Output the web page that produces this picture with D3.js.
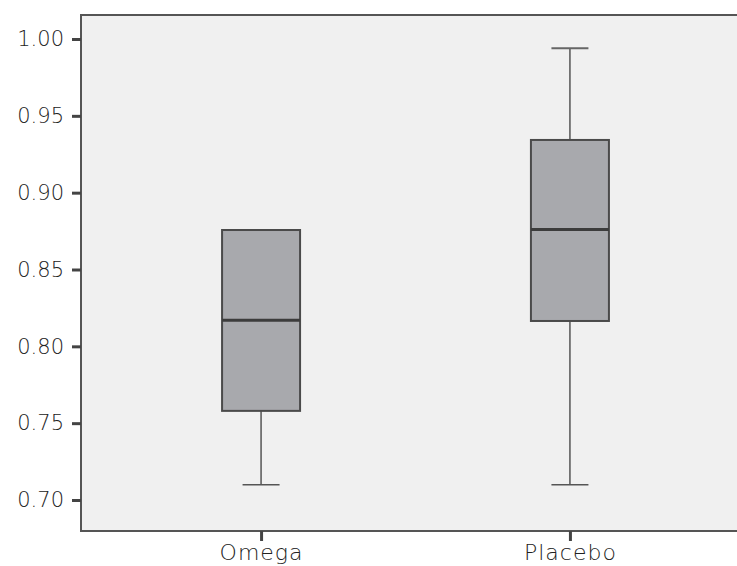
<!DOCTYPE html>
<html><head><meta charset="utf-8">
<script src="https://cdn.jsdelivr.net/npm/d3@7"></script>
<style>body{margin:0;background:#fff;overflow:hidden}</style>
</head><body>
<svg id="c" width="737" height="566"></svg>
<script>
const categories = ["Omega", "Placebo"];
const mins    = [0.710, 0.710];
const q1s     = [0.758, 0.8165];
const medians = [0.817, 0.876];
const q3s     = [0.8757, 0.9343];
const maxs    = [0.8757, 0.994];
const yTicks  = [0.70, 0.75, 0.80, 0.85, 0.90, 0.95, 1.00];

const data = categories.map((c,i)=>({c, min:mins[i], q1:q1s[i], med:medians[i], q3:q3s[i], max:maxs[i]}));

const svg = d3.select("#c");
const L = 81, T = 15, B = 531, R = 750;
const y = d3.scaleLinear().domain([0.70, 1.00]).range([500, 39]);
const x = d3.scalePoint().domain(categories).range([L, R]).padding(0.583);

svg.append("rect").attr("x", L).attr("y", T).attr("width", R - L).attr("height", B - T)
  .attr("fill", "#f0f0f0").attr("stroke", "#555").attr("stroke-width", 2);

const font = "'DejaVu Sans', sans-serif";
const yAxis = svg.append("g").attr("transform", `translate(${L},0)`)
  .call(d3.axisLeft(y).tickValues(yTicks).tickFormat(d3.format(".2f")).tickSize(9).tickPadding(8));
yAxis.select(".domain").remove();
yAxis.selectAll(".tick line").attr("stroke", "#444").attr("stroke-width", 3);
yAxis.selectAll(".tick text").attr("font-family", font).attr("font-weight", 200)
  .attr("font-size", 21).attr("fill", "#222");

const xAxis = svg.append("g").attr("transform", `translate(0,${B})`)
  .call(d3.axisBottom(x).tickSize(10).tickPadding(6));
xAxis.select(".domain").remove();
xAxis.selectAll(".tick line").attr("stroke", "#444").attr("stroke-width", 3);
xAxis.selectAll(".tick text").attr("font-family", font).attr("font-weight", 200)
  .attr("font-size", 22).attr("fill", "#222").attr("letter-spacing", 1)
  .attr("y", 29).attr("dy", 0);

const bw = 78, cw = 37;
const g = svg.append("g").selectAll("g").data(data).join("g");
g.append("line").attr("x1", d=>x(d.c)).attr("x2", d=>x(d.c))
  .attr("y1", d=>y(d.min)).attr("y2", d=>y(d.q1)).attr("stroke", "#555").attr("stroke-width", 1.5);
g.append("line").attr("x1", d=>x(d.c)).attr("x2", d=>x(d.c))
  .attr("y1", d=>y(d.q3)).attr("y2", d=>y(d.max)).attr("stroke", "#555").attr("stroke-width", 1.5);
g.append("line").attr("x1", d=>x(d.c)-cw/2).attr("x2", d=>x(d.c)+cw/2)
  .attr("y1", d=>y(d.min)).attr("y2", d=>y(d.min)).attr("stroke", "#555").attr("stroke-width", 1.5);
g.filter(d=>d.max > d.q3).append("line").attr("x1", d=>x(d.c)-cw/2).attr("x2", d=>x(d.c)+cw/2)
  .attr("y1", d=>y(d.max)).attr("y2", d=>y(d.max)).attr("stroke", "#666").attr("stroke-width", 2);
g.append("rect").attr("x", d=>x(d.c)-bw/2).attr("width", bw)
  .attr("y", d=>y(d.q3)).attr("height", d=>y(d.q1)-y(d.q3))
  .attr("fill", "#a8a9ad").attr("stroke", "#4a4a4a").attr("stroke-width", 2);
g.append("line").attr("x1", d=>x(d.c)-bw/2).attr("x2", d=>x(d.c)+bw/2)
  .attr("y1", d=>y(d.med)).attr("y2", d=>y(d.med)).attr("stroke", "#3c3c3c").attr("stroke-width", 3);
</script>
</body></html>
